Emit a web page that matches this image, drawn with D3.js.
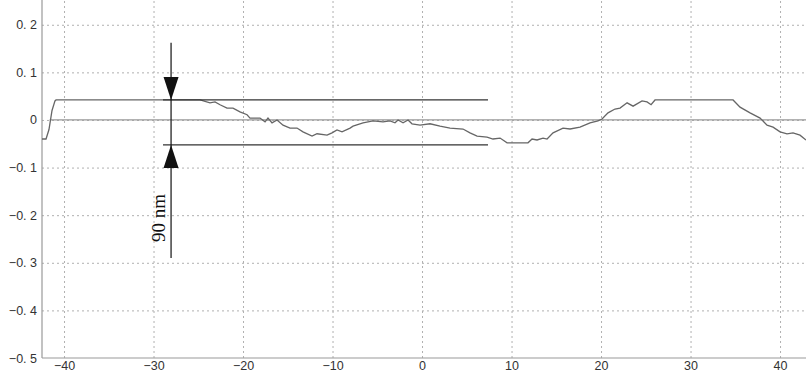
<!DOCTYPE html>
<html>
<head>
<meta charset="utf-8">
<script src="https://cdn.jsdelivr.net/npm/d3@7"></script>
<style>
  body { margin: 0; background: #fff; }
  svg { display: block; }
  .tick text { font-family: "Liberation Sans", Arial, sans-serif; font-size: 12.5px; fill: #333; }
  .grid line { stroke: #b0b0b0; stroke-dasharray: 2,3; }
  .grid path { display: none; }
</style>
</head>
<body>
<div id="chart"></div>
<script>
// profile, x in um, height in um
var profileX = [-42.46, -42.01, -41.68, -41.34, -41.01, -40.89, -24.8, -23.69, -23.13, -22.57, -21.79, -21.12,
  -20.34, -19.55, -19.22, -18.10, -17.54, -17.21, -16.76, -16.20, -15.53, -14.75, -13.97, -13.30, -12.29,
  -11.73, -10.61, -10.06, -9.50, -8.94, -8.04, -7.71, -6.59, -5.47, -4.36, -3.58, -3.02, -2.68, -2.12, -1.56,
  -1.12, -0.22, 0.89, 2.01, 3.13, 4.58, 5.36, 6.15, 7.26, 7.93, 8.72, 9.50, 10.61, 11.84, 12.29, 12.85, 13.52,
  13.97, 14.64, 15.75, 16.54, 17.65, 18.77, 19.66, 20.11, 20.78, 21.56, 22.12, 22.91, 23.58, 24.58, 25.14,
  25.59, 26.03, 34.75, 35.53, 36.65, 37.77, 38.55, 39.22, 40.00, 40.78, 41.45, 42.23, 42.9]
var profileY = [-0.040, -0.040, -0.020, 0.020, 0.040, 0.042, 0.042, 0.036, 0.038, 0.032, 0.025, 0.025,
  0.017, 0.011, 0.004, 0.004, -0.004, 0.004, -0.006, 0.000, -0.011, -0.017, -0.017, -0.025, -0.034,
  -0.029, -0.032, -0.027, -0.021, -0.025, -0.017, -0.013, -0.006, -0.002, -0.004, -0.002, -0.006, 0.000, -0.006, 0.000,
  -0.008, -0.011, -0.008, -0.013, -0.017, -0.019, -0.027, -0.034, -0.036, -0.040, -0.038, -0.048, -0.048, -0.048, -0.040, -0.042, -0.038,
  -0.040, -0.027, -0.017, -0.019, -0.015, -0.006, -0.002, 0.002, 0.015, 0.023, 0.025, 0.036, 0.029, 0.040, 0.038,
  0.032, 0.042, 0.042, 0.027, 0.015, 0.004, -0.011, -0.015, -0.025, -0.029, -0.027, -0.032, -0.042]

var xTicks = [-40, -30, -20, -10, 0, 10, 20, 30, 40]
var xTickLabels = ['\u221240', '\u221230', '\u221220', '\u221210', '0', '10', '20', '30', '40']
var yTicks = [0.2, 0.1, 0, -0.1, -0.2, -0.3, -0.4, -0.5]
var yTickLabels = ['0. 2', '0. 1', '0', '\u22120. 1', '\u22120. 2', '\u22120. 3', '\u22120. 4', '\u22120. 5']

// step annotation
var stepTop = 0.042
var stepBottom = -0.0525
var stepX = [-28.94, 7.37]
var arrowX = -28.04
var arrowY = [0.162, -0.29]
var stepLabel = '90 nm'

var width = 806, height = 372
var margin = {left: 42, right: 0, top: 0, bottom: 14}

var x = d3.scaleLinear().domain([-42.46, 42.9]).range([margin.left, width - margin.right])
var y = d3.scaleLinear().domain([-0.5, 0.252]).range([height - margin.bottom, margin.top])

var svg = d3.select('#chart').append('svg')
  .attr('width', width)
  .attr('height', height)

// grid
svg.append('g')
  .attr('class', 'grid')
  .attr('transform', 'translate(0,' + (height - margin.bottom) + ')')
  .call(d3.axisBottom(x).tickValues(xTicks).tickSize(-(height - margin.bottom - margin.top)).tickFormat(''))
svg.append('g')
  .attr('class', 'grid')
  .attr('transform', 'translate(' + margin.left + ',0)')
  .call(d3.axisLeft(y).tickValues(yTicks.filter(function(d) { return d > -0.5 }))
    .tickSize(-(width - margin.left - margin.right)).tickFormat(''))

// axis lines
svg.append('line')
  .attr('x1', margin.left).attr('x2', margin.left)
  .attr('y1', margin.top).attr('y2', height - margin.bottom)
  .attr('stroke', '#999').attr('stroke-width', 1.2)
svg.append('line')
  .attr('x1', margin.left).attr('x2', width)
  .attr('y1', y(-0.5)).attr('y2', y(-0.5))
  .attr('stroke', '#999').attr('stroke-width', 1.2)

// tick labels
svg.append('g')
  .attr('transform', 'translate(' + margin.left + ',0)')
  .call(d3.axisLeft(y).tickValues(yTicks).tickSize(0).tickPadding(5)
    .tickFormat(function(d, i) { return yTickLabels[i] }))
  .call(function(g) { g.select('.domain').remove() })
svg.append('g')
  .attr('transform', 'translate(0,' + (height - margin.bottom) + ')')
  .call(d3.axisBottom(x).tickValues(xTicks).tickSize(0).tickPadding(3)
    .tickFormat(function(d, i) { return xTickLabels[i] }))
  .call(function(g) { g.select('.domain').remove() })

// zero reference line
svg.append('line')
  .attr('x1', x(-41.6)).attr('x2', width)
  .attr('y1', y(0)).attr('y2', y(0))
  .attr('stroke', '#999').attr('stroke-width', 1.2)

// profile
var pts = profileX.map(function(d, i) { return [d, profileY[i]] })
svg.append('path')
  .datum(pts)
  .attr('fill', 'none')
  .attr('stroke', '#666')
  .attr('stroke-width', 1.3)
  .attr('d', d3.line().x(function(d) { return x(d[0]) }).y(function(d) { return y(d[1]) }))

// annotation
;[stepTop, stepBottom].forEach(function(v) {
  svg.append('line')
    .attr('x1', x(stepX[0])).attr('x2', x(stepX[1]))
    .attr('y1', y(v)).attr('y2', y(v))
    .attr('stroke', '#333').attr('stroke-width', 1.2)
})
svg.append('line')
  .attr('x1', x(arrowX)).attr('x2', x(arrowX))
  .attr('y1', y(arrowY[0])).attr('y2', y(arrowY[1]))
  .attr('stroke', '#111').attr('stroke-width', 1.2)

var ax = x(arrowX)
svg.append('path')
  .attr('d', 'M' + (ax - 7.5) + ',' + (y(stepTop) - 23) + 'L' + (ax + 7.5) + ',' + (y(stepTop) - 23) + 'L' + ax + ',' + y(stepTop) + 'Z')
  .attr('fill', '#111')
svg.append('path')
  .attr('d', 'M' + (ax - 7.5) + ',' + (y(stepBottom) + 23) + 'L' + (ax + 7.5) + ',' + (y(stepBottom) + 23) + 'L' + ax + ',' + y(stepBottom) + 'Z')
  .attr('fill', '#111')

svg.append('text')
  .attr('transform', 'translate(' + (ax - 6) + ',' + 218 + ') rotate(-90)')
  .attr('text-anchor', 'middle')
  .attr('font-family', '"Liberation Serif", "DejaVu Serif", serif')
  .attr('font-size', 19)
  .attr('fill', '#111')
  .text(stepLabel)
</script>
</body>
</html>
